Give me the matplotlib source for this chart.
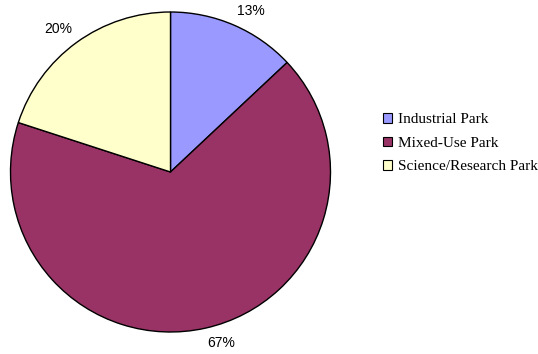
import numpy as np
import matplotlib.pyplot as plt
from matplotlib.patches import Patch

parks = ['Industrial Park', 'Mixed-Use Park', 'Science/Research Park']
shares = [13, 67, 20]
colors = ['#9999FF', '#993366', '#FFFFCC']

fig = plt.figure(figsize=(5.38, 3.54), dpi=100)
# square axes so the pie is a 320px circle
ax = fig.add_axes([10.5 / 538, 22 / 354, 320 / 538, 320 / 354])

wedges, texts = ax.pie(shares, colors=colors, startangle=90, counterclock=False,
                       labels=[f'{s}%' for s in shares], labeldistance=1.05,
                       wedgeprops=dict(edgecolor='black', linewidth=1.0),
                       textprops=dict(family='Liberation Sans', fontsize=10))
# anchor each label by the corner nearest the pie
for w, t in zip(wedges, texts):
    ang = np.deg2rad((w.theta1 + w.theta2) / 2)
    t.set_ha('left' if np.cos(ang) >= 0 else 'right')
    t.set_va('bottom' if np.sin(ang) >= 0 else 'top')
ax.set_xlim(-1, 1)
ax.set_ylim(-1, 1)
ax.set_aspect('equal')
ax.axis('off')

handles = [Patch(facecolor=c, edgecolor='black', linewidth=0.8) for c in colors]
fig.legend(handles, parks, loc='upper left', bbox_to_anchor=(383 / 538, 1 - 113 / 354),
           frameon=False, prop=dict(family='Liberation Serif', size=11),
           handlelength=0.58, handleheight=0.58, handletextpad=0.42,
           labelspacing=0.68, borderpad=0, borderaxespad=0)

fig.savefig('out.png', dpi=100)
